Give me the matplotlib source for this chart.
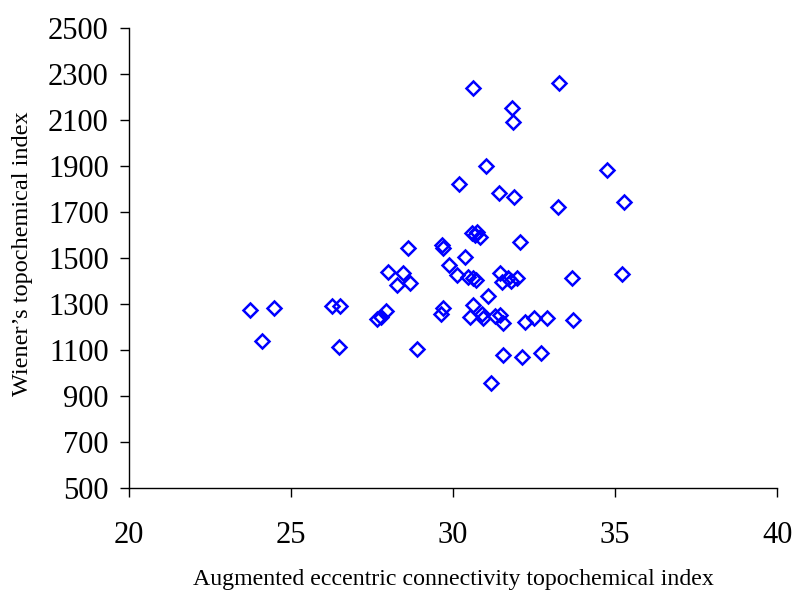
import matplotlib
matplotlib.use("Agg")
import matplotlib.pyplot as plt

plt.rcParams['font.family'] = ['Liberation Serif', 'DejaVu Serif']

aec_index = [23.74, 24.49, 24.10, 26.26, 26.52, 26.48, 27.65, 27.77, 27.93, 28.00,
             28.47, 28.26, 28.67, 28.60, 28.90, 29.65, 29.70, 29.88, 30.11, 30.37,
             30.47, 30.63, 30.70, 30.58, 30.73, 30.68, 30.83, 32.07, 31.45, 31.50,
             31.70, 31.78, 31.96, 33.68, 35.22, 31.09, 30.63, 29.70, 29.62, 30.52,
             30.88, 30.93, 31.30, 31.45, 31.55, 32.22, 32.51, 32.89, 33.71, 31.53,
             32.13, 32.71, 31.17, 30.63, 33.28, 31.81, 31.86, 31.02, 30.18, 31.42,
             31.88, 34.74, 35.27, 33.23]
wiener_index = [1274, 1281, 1139, 1293, 1293, 1114, 1233, 1245, 1271, 1440,
                1436, 1383, 1390, 1545, 1104, 1556, 1542, 1470, 1426, 1506,
                1419, 1412, 1404, 1607, 1614, 1600, 1593, 1571, 1433, 1397,
                1412, 1401, 1412, 1412, 1430, 1335, 1296, 1283, 1258, 1245,
                1258, 1238, 1248, 1250, 1216, 1223, 1240, 1240, 1230, 1078,
                1071, 1088, 955, 2238, 2260, 2153, 2090, 1900, 1820, 1784,
                1767, 1883, 1745, 1723]

x_ticks = [20, 25, 30, 35, 40]
y_ticks = [500, 700, 900, 1100, 1300, 1500, 1700, 1900, 2100, 2300, 2500]

fig = plt.figure(figsize=(7.95, 5.92), dpi=100)
ax = fig.add_axes([0.162, 0.1757, 0.8157, 0.777])
ax.plot(aec_index, wiener_index, linestyle='none', marker='D', markersize=7,
        markerfacecolor='none', markeredgecolor='#0000FF', markeredgewidth=1.8)

ax.set_xlim(20, 40)
ax.set_ylim(500, 2500)
ax.set_xticks(x_ticks)
ax.set_yticks(y_ticks)
ax.tick_params(axis='both', direction='out', length=6.5, width=1, labelsize=22)
ax.tick_params(axis='y', pad=8)
ax.tick_params(axis='x', pad=17)
for s in ['top', 'right']:
    ax.spines[s].set_visible(False)
for s in ['left', 'bottom']:
    ax.spines[s].set_linewidth(1)

ax.set_xlabel('Augmented eccentric connectivity topochemical index', fontsize=17.2, labelpad=14)
ax.set_ylabel('Wiener\u2019s topochemical index', fontsize=17.5)
ax.yaxis.set_label_coords(-0.148, 0.51)

fig.savefig('out.png', dpi=100)
